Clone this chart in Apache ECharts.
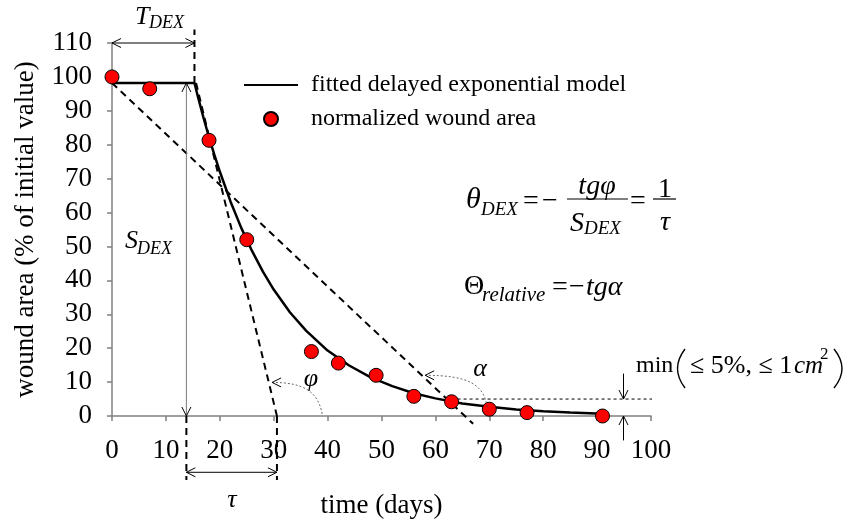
<!DOCTYPE html>
<html><head><meta charset="utf-8">
<script src="https://cdn.jsdelivr.net/npm/echarts@6/dist/echarts.min.js"></script>
<style>html,body{margin:0;padding:0;background:#fff}#c{width:849px;height:524px}</style>
</head><body><div id="c"></div>
<script>
// ---- data ----
const obsDays = [0, 7, 18, 25, 37, 42, 49, 56, 63, 70, 77, 91];
const obsArea = [100, 96.5, 81.3, 52, 19, 15.6, 12, 5.8, 4.2, 2, 1, 0];
const fitDays = [0, 15.3, 16, 17, 18, 19, 20, 22, 24, 26, 28, 30, 33, 36, 40, 44, 48, 52, 56, 60, 65, 70, 75, 80, 85, 91];
const fitArea = [98.2, 98.2, 93.8, 87.8, 82.2, 77.0, 72.1, 63.2, 55.4, 48.6, 42.6, 37.3, 30.6, 25.2, 19.3, 14.9, 11.4, 8.8, 6.7, 5.2, 3.7, 2.7, 1.9, 1.4, 1.0, 0.7];
const xTickLabels = ['0','10','20','30','40','50','60','70','80','90','100'];
const yTickLabels = ['0','10','20','30','40','50','60','70','80','90','100','110'];
// construction lines (data coordinates)
const phiTangentX = [15.6, 30.6], phiTangentY = [98.2, 0];
const alphaTangentX = [0, 67], alphaTangentY = [98.2, -2.3];
const tdexGuideX = [15.3, 15.3], tdexGuideY = [98.2, 114];
const tauLeftX = [13.8, 13.8], tauLeftY = [0, -18.9];
const tauRightX = [30.6, 30.6], tauRightY = [0, -18.9];
const thresholdX = [63, 100.5], thresholdY = [5, 5];

const FONT = 'Liberation Serif';
const zip = (a, b) => a.map((v, i) => [v, b[i]]);
const chart = echarts.init(document.getElementById('c'));

function dashed(x, y, width, type) {
  return { type: 'line', data: zip(x, y), symbol: 'none', clip: false, silent: true, z: 2,
    lineStyle: { color: '#000', width: width, type: type } };
}
const axisGrey = { color: '#808080', width: 1.5 };
chart.setOption({
  animation: false,
  grid: { left: 112, right: 198, top: 43, bottom: 105 },
  legend: {
    orient: 'vertical', left: 243, top: 73, padding: 0, itemWidth: 54, itemHeight: 14, itemGap: 10,
    data: [
      { name: 'fitted delayed exponential model', itemStyle: { opacity: 0 } },
      { name: 'normalized wound area' }
    ],
    textStyle: { fontFamily: FONT, fontSize: 24, color: '#000', padding: [0, 0, 0, 8] }
  },
  xAxis: {
    type: 'value', min: 0, max: 100, interval: 10,
    name: 'time (days)', nameLocation: 'middle', nameGap: 76,
    nameTextStyle: { fontFamily: FONT, fontSize: 27, color: '#000' },
    axisLine: { lineStyle: axisGrey }, axisTick: { length: 5, lineStyle: axisGrey },
    splitLine: { show: false },
    axisLabel: { fontFamily: FONT, fontSize: 27, color: '#000', margin: 21,
      formatter: v => xTickLabels[Math.round(v / 10)] }
  },
  yAxis: {
    type: 'value', min: 0, max: 110, interval: 10,
    name: 'wound area (% of initial value)', nameLocation: 'middle', nameGap: 73,
    nameTextStyle: { fontFamily: FONT, fontSize: 27, color: '#000' },
    axisLine: { lineStyle: axisGrey }, axisTick: { length: 5, lineStyle: axisGrey },
    splitLine: { show: false },
    axisLabel: { fontFamily: FONT, fontSize: 27, color: '#000', margin: 20,
      formatter: v => yTickLabels[Math.round(v / 10)] }
  },
  series: [
    dashed(phiTangentX, phiTangentY, 2, [7, 5]),
    dashed(alphaTangentX, alphaTangentY, 2, [7, 5]),
    dashed(tdexGuideX, tdexGuideY, 2, [7, 5]),
    dashed(tauLeftX, tauLeftY, 2, [7, 5]),
    dashed(tauRightX, tauRightY, 2, [7, 5]),
    dashed(thresholdX, thresholdY, 1, [3, 3]),
    { name: 'fitted delayed exponential model', type: 'line', data: zip(fitDays, fitArea),
      symbol: 'none', z: 3, lineStyle: { color: '#000', width: 2.5 }, itemStyle: { color: '#000' } },
    { name: 'normalized wound area', type: 'scatter', data: zip(obsDays, obsArea), symbolSize: 14, z: 4,
      itemStyle: { color: '#ff0000', borderColor: '#000', borderWidth: 1, opacity: 1 } }
  ]
});

// ---- annotations ----
const P = (x, y) => chart.convertToPixel({ gridIndex: 0 }, [x, y]);
function head(tip, from, color, lw) {
  const dx = tip[0] - from[0], dy = tip[1] - from[1], L = Math.hypot(dx, dy);
  const ux = dx / L, uy = dy / L, len = 9, w = 4.5;
  const bx = tip[0] - ux * len, by = tip[1] - uy * len;
  return { type: 'polyline', silent: true, z: 10,
    shape: { points: [[bx - uy * w, by + ux * w], tip, [bx + uy * w, by - ux * w]] },
    style: { stroke: color || '#000', lineWidth: lw || 1, fill: null } };
}
function seg(a, b, color, lw, dash) {
  return { type: 'line', silent: true, z: 10, shape: { x1: a[0], y1: a[1], x2: b[0], y2: b[1] },
    style: { stroke: color || '#000', lineWidth: lw || 1, lineDash: dash || null } };
}
function arrow2(a, b, color) { return [seg(a, b, color), head(a, b), head(b, a)]; }
function arrow1(from, tip, color) { return [seg(from, tip, color), head(tip, from)]; }
function curveArrow(s, c1, c2, e) {
  return [{ type: 'bezierCurve', silent: true, z: 10,
      shape: { x1: s[0], y1: s[1], cpx1: c1[0], cpy1: c1[1], cpx2: c2[0], cpy2: c2[1], x2: e[0], y2: e[1] },
      style: { stroke: '#444', lineWidth: 0.8, lineDash: [2, 2], fill: null } },
    head(e, c2, '#000', 1)];
}
function paren(x1, y1, cx, y2) {
  return { type: 'bezierCurve', silent: true, z: 10,
    shape: { x1: x1, y1: y1, cpx1: cx, cpy1: (y1 + y2) / 2, x2: x1, y2: y2 },
    style: { stroke: '#000', lineWidth: 1.4, fill: null } };
}
function t(x, y, s, size, italic, align) {
  return { type: 'text', x: x, y: y, silent: true, z: 10,
    style: { text: s, fontFamily: FONT, fontSize: size, fontStyle: italic ? 'italic' : 'normal',
      fill: '#000', align: align || 'left', verticalAlign: 'middle' } };
}

const g = [];
// T_DEX
g.push(...arrow2(P(0, 110), P(15.3, 110)));
g.push(t(135, 17, 'T', 26, true), t(149, 23, 'DEX', 18, true));
// S_DEX
g.push(...arrow2(P(13.8, 98.2), P(13.8, 0), '#777'));
g.push(t(125, 241, 'S', 26, true), t(137, 249, 'DEX', 18, true));
// tau
g.push(...arrow2(P(13.8, -16.6), P(30.6, -16.6)));
g.push(t(232, 500, 'τ', 26, true, 'center'));
// phi
g.push(...curveArrow(P(39.0, 0.6), P(38.2, 7.0), P(35.8, 9.9), P(29.7, 9.9)));
g.push(t(311, 379, 'φ', 26, true, 'center'));
// alpha
g.push(...curveArrow(P(69.6, 2.6), P(69.0, 9.1), P(66.4, 12.0), P(58.1, 12.0)));
g.push(t(480, 369, 'α', 26, true, 'center'));
// threshold arrows and label
g.push(...arrow1(P(94.9, 12.5), P(94.9, 5)));
g.push(...arrow1(P(94.9, -7.2), P(94.9, 0)));
g.push(t(636, 366, 'min', 24, false));
g.push(paren(685, 349, 670, 388));
g.push(t(690, 366, '≤ 5%, ≤ 1', 26, false));
g.push(t(794, 366, 'cm', 25, true));
g.push(t(820, 355, '2', 17, false));
g.push(paren(834, 349, 850, 388));
// theta_DEX equation
g.push(t(466, 200, 'θ', 30, true), t(481, 210, 'DEX', 19, true));
g.push(t(523, 202, '=', 28, false), t(542, 202, '−', 28, false));
g.push(seg([567, 199], [628, 199], '#000', 1.2));
g.push(t(597, 187, 'tgφ', 28, true, 'center'));
g.push(t(570, 224, 'S', 28, true), t(584, 229, 'DEX', 19, true));
g.push(t(630, 202, '=', 28, false));
g.push(seg([653, 199], [676, 199], '#000', 1.2));
g.push(t(665, 190, '1', 28, false, 'center'), t(665, 223, 'τ', 28, true, 'center'));
// Theta_relative
g.push(t(464, 287, 'Θ', 28, false), t(482, 295, 'relative', 21, true));
g.push(t(552, 288, '=', 28, false), t(569, 288, '−', 28, false), t(586, 288, 'tgα', 28, true));

chart.setOption({ graphic: g });
</script></body></html>
